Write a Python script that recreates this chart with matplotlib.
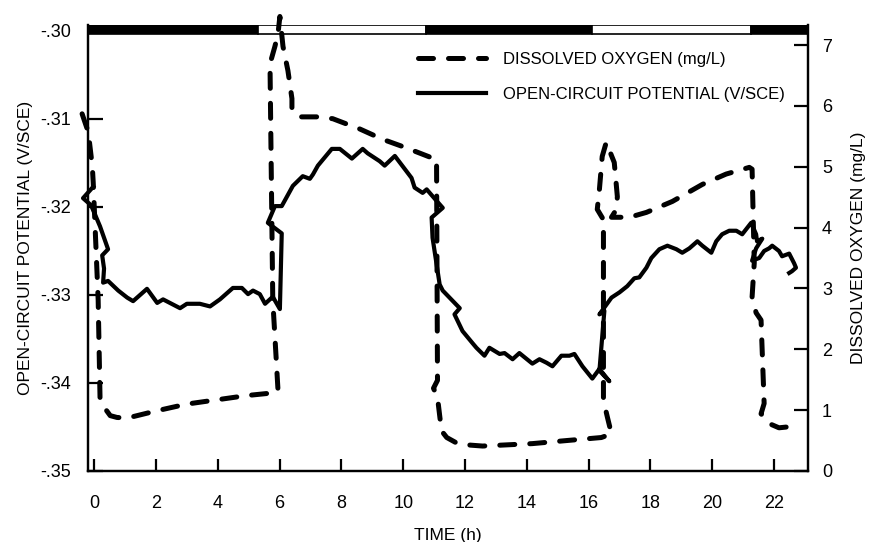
"""Open-circuit potential and dissolved oxygen over a day."""

import matplotlib
matplotlib.use("Agg")
import matplotlib.pyplot as plt
from matplotlib.lines import Line2D

plt.rcParams['font.family'] = ['Liberation Sans', 'DejaVu Sans']

# open-circuit potential (V/SCE)
ocp_t = [-0.03, -0.36, -0.10, 0.19, 0.45, 0.26, 0.32, 0.29, 0.45, 0.78, 1.07, 1.26,
         1.71, 2.04, 2.23, 2.78, 3.00, 3.42, 3.75, 4.07, 4.49, 4.78, 4.98, 5.14,
         5.14, 5.36, 5.53, 5.78, 6.01, 6.07, 5.62, 5.85, 6.07, 6.43, 6.75, 6.98,
         7.08, 7.24, 7.69, 7.95, 8.34, 8.69, 8.85, 9.24, 9.40, 9.73, 10.27, 10.37,
         10.63, 10.76, 11.08, 11.28, 10.92, 10.95, 11.18, 11.28, 11.83, 11.66, 11.92,
         12.25, 12.37, 12.63, 12.79, 13.12, 13.28, 13.54, 13.76, 14.18, 14.41, 14.64,
         14.83, 15.12, 15.38, 15.54, 15.80, 16.12, 16.35, 16.67, 16.35, 16.51, 16.35,
         16.74, 17.00, 17.25, 17.48, 17.64, 17.87, 18.03, 18.29, 18.55, 18.84, 19.03,
         19.26, 19.52, 19.68, 19.97, 20.13, 20.32, 20.55, 20.78, 20.97, 21.26, 21.42,
         21.45, 21.62, 21.42, 21.29, 21.52, 21.68, 21.84, 21.94, 22.16, 22.26, 22.49,
         22.65, 22.71, 22.58, 22.49]
ocp_v = [-0.3177, -0.3190, -0.3198, -0.3222, -0.3248, -0.3255, -0.3270, -0.3286,
         -0.3284, -0.3295, -0.3303, -0.3307, -0.3293, -0.3309, -0.3305, -0.3315,
         -0.3310, -0.3310, -0.3313, -0.3305, -0.3292, -0.3292, -0.3299, -0.3295,
         -0.3295, -0.3299, -0.3310, -0.3302, -0.3316, -0.3230, -0.3218, -0.3199,
         -0.3199, -0.3176, -0.3165, -0.3168, -0.3163, -0.3153, -0.3134, -0.3134,
         -0.3145, -0.3134, -0.3139, -0.3148, -0.3153, -0.3142, -0.3167, -0.3178,
         -0.3184, -0.3180, -0.3193, -0.3201, -0.3212, -0.3235, -0.3288, -0.3295,
         -0.3315, -0.3322, -0.3341, -0.3355, -0.3360, -0.3369, -0.3360, -0.3367,
         -0.3366, -0.3373, -0.3366, -0.3378, -0.3373, -0.3377, -0.3381, -0.3369,
         -0.3369, -0.3367, -0.3381, -0.3395, -0.3384, -0.3398, -0.3386, -0.3318,
         -0.3322, -0.3303, -0.3297, -0.3290, -0.3281, -0.3280, -0.3269, -0.3258,
         -0.3248, -0.3244, -0.3248, -0.3252, -0.3247, -0.3239, -0.3244, -0.3252,
         -0.3239, -0.3231, -0.3227, -0.3227, -0.3231, -0.3218, -0.3231, -0.3239,
         -0.3236, -0.3247, -0.3261, -0.3258, -0.3250, -0.3247, -0.3244, -0.3250,
         -0.3256, -0.3253, -0.3264, -0.3269, -0.3273, -0.3275]

# dissolved oxygen (mg/L)
do_t = [-0.39, -0.19, -0.06, -0.03, 0.13, 0.19, 0.29, 0.52, 0.74, 1.07, 2.03, 3.00,
        3.97, 4.94, 5.91, 5.95, 5.78, 5.69, 5.85, 5.95, 6.01, 6.11, 6.27, 6.40, 6.40,
        6.66, 7.20, 7.72, 8.60, 9.34, 10.05, 10.86, 11.11, 11.08, 11.11, 10.98, 11.11,
        11.24, 11.41, 11.73, 12.05, 12.57, 14.18, 15.28, 16.41, 16.74, 16.61, 16.48,
        16.48, 16.28, 16.35, 16.44, 16.57, 16.83, 16.93, 16.90, 16.74, 17.32, 17.87,
        18.71, 19.68, 20.45, 21.20, 21.29, 21.36, 21.29, 21.42, 21.58, 21.68, 21.58,
        21.84, 22.16, 22.75]
do_v = [5.87, 5.57, 5.01, 4.74, 2.81, 1.21, 1.07, 0.91, 0.88, 0.87, 0.99, 1.10,
        1.17, 1.24, 1.29, 1.32, 2.81, 6.69, 6.98, 7.19, 7.47, 6.98, 6.58, 6.12, 5.92,
        5.82, 5.82, 5.79, 5.62, 5.45, 5.32, 5.16, 5.11, 5.04, 1.49, 1.36, 1.21,
        0.66, 0.55, 0.46, 0.43, 0.41, 0.45, 0.50, 0.55, 0.61, 0.88, 1.16,
        4.13, 4.30, 4.63, 5.17, 5.40, 5.07, 4.51, 4.30, 4.17, 4.17, 4.25,
        4.43, 4.71, 4.88, 4.99, 4.96, 3.42, 2.86, 2.60, 2.48, 1.11, 0.94,
        0.78, 0.71, 0.74]

# light/dark bar along the top
bar_start = [-0.2, 5.3, 10.73, 16.12, 21.26]
bar_end = [5.3, 10.73, 16.12, 21.26, 23.1]
bar_dark = [True, False, True, False, True]

x_ticks = [0, 2, 4, 6, 8, 10, 12, 14, 16, 18, 20, 22]
ocp_ticks = [-0.35, -0.34, -0.33, -0.32, -0.31, -0.30]
ocp_labels = ["-.35", "-.34", "-.33", "-.32", "-.31", "-.30"]
do_ticks = [0, 1, 2, 3, 4, 5, 6, 7]

DO_STYLE = dict(color="black", lw=3.6, linestyle=(0, (3, 3)), dash_capstyle="round")

fig = plt.figure(figsize=(8.71, 5.42), dpi=100)
ax = fig.add_axes([0.101, 0.131, 0.8267, 0.8229])
ax2 = ax.twinx()

ax.set_xlim(-0.2, 23.1)
ax.set_ylim(-0.35, -0.29932)
ax2.set_ylim(0, 7.33)

for s, e, dark in zip(bar_start, bar_end, bar_dark):
    ax.axvspan(s, e, ymin=0.98, ymax=1.0, facecolor="black" if dark else "white",
               edgecolor="black", lw=1.2, zorder=1)

ax.plot(ocp_t, ocp_v, color="black", lw=3.0, solid_joinstyle="round",
        clip_on=False, zorder=3)
ax2.plot(do_t, do_v, clip_on=False, zorder=3, **DO_STYLE)

ax.set_xticks(x_ticks)
ax.set_yticks(ocp_ticks)
ax.set_yticklabels(ocp_labels)
ax2.set_yticks(do_ticks)

for a in (ax, ax2):
    for sp in a.spines.values():
        sp.set_linewidth(1.6)
    a.spines["top"].set_visible(False)

ax.tick_params(axis="x", direction="in", length=9, width=1.6, pad=17, labelsize=13)
ax.tick_params(axis="y", direction="in", length=11, width=1.6, pad=12, labelsize=13)
ax2.tick_params(axis="y", direction="in", length=10, width=1.6, pad=10, labelsize=13)

ax.set_xlabel("TIME (h)", fontsize=12.5, labelpad=12)
ax.set_ylabel("OPEN-CIRCUIT POTENTIAL (V/SCE)", fontsize=12.5, labelpad=5)
ax2.set_ylabel("DISSOLVED OXYGEN (mg/L)", fontsize=12.5, labelpad=14)

handles = [Line2D([], [], **DO_STYLE),
           Line2D([], [], color="black", lw=3.0)]
ax2.legend(handles, ["DISSOLVED OXYGEN (mg/L)", "OPEN-CIRCUIT POTENTIAL (V/SCE)"],
           loc="upper left", bbox_to_anchor=(0.437, 0.973), frameon=False, fontsize=12,
           handlelength=4.1, handletextpad=1.05, labelspacing=1.2)

fig.savefig("out.png", dpi=100)
